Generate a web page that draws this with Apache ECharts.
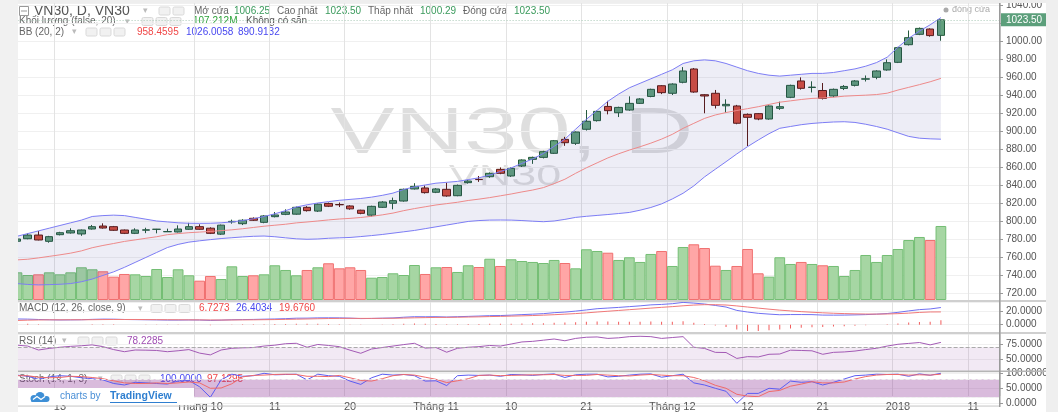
<!DOCTYPE html>
<html>
<head>
<meta charset="utf-8">
<script src="https://cdn.jsdelivr.net/npm/echarts@6/dist/echarts.min.js"></script>
<style>
  html, body { margin: 0; padding: 0; background: #fff; }
  #main { width: 1058px; height: 412px; }
</style>
</head>
<body>
<div id="main"></div>
<script>
// VN30 daily – candles + volume + BB(20,2), MACD, RSI, Stoch panes

const dates = [
  '2017-09-07','2017-09-08','2017-09-11','2017-09-12','2017-09-13','2017-09-14','2017-09-15','2017-09-18','2017-09-19','2017-09-20','2017-09-21','2017-09-22','2017-09-25','2017-09-26','2017-09-27','2017-09-28','2017-09-29',
  '2017-10-02','2017-10-03','2017-10-04','2017-10-05','2017-10-06','2017-10-09','2017-10-10','2017-10-11','2017-10-12','2017-10-13','2017-10-16','2017-10-17','2017-10-18','2017-10-19','2017-10-20','2017-10-23','2017-10-24','2017-10-25','2017-10-26','2017-10-27','2017-10-30','2017-10-31',
  '2017-11-01','2017-11-02','2017-11-03','2017-11-06','2017-11-07','2017-11-08','2017-11-09','2017-11-10','2017-11-13','2017-11-14','2017-11-15','2017-11-16','2017-11-17','2017-11-20','2017-11-21','2017-11-22','2017-11-23','2017-11-24','2017-11-27','2017-11-28','2017-11-29','2017-11-30',
  '2017-12-01','2017-12-04','2017-12-05','2017-12-06','2017-12-07','2017-12-08','2017-12-11','2017-12-12','2017-12-13','2017-12-14','2017-12-15','2017-12-18','2017-12-19','2017-12-20','2017-12-21','2017-12-22','2017-12-25','2017-12-26','2017-12-27','2017-12-28','2017-12-29',
  '2018-01-02','2018-01-03','2018-01-04','2018-01-05','2018-01-08','2018-01-09','2018-01-10','2018-01-11','2018-01-12','2018-01-15'
];

const tickDates = ['2017-09-13','2017-10-02','2017-10-11','2017-10-20','2017-11-01','2017-11-10','2017-11-21','2017-12-01','2017-12-12','2017-12-21','2018-01-02','2018-01-11'];
const tickTexts = ['13','Tháng 10','11','20','Tháng 11','10','21','Tháng 12','12','21','2018','11'];

const opens = [777.5,780.3,784.4,777.4,784.8,786.7,785.6,791.1,794.4,793.7,
  790,786.3,789.8,790.7,788,787.8,790.8,793.7,792,785.4,
  799,797,803,798.5,804.8,807.4,807.6,815.2,811,819.5,
  818.3,816.7,812,806.5,815.2,819.7,822.2,835.6,836.7,831.9,
  835.2,828.1,842.6,846.3,849.2,857.4,850,861.1,868.5,870.7,
  875.2,890.7,886.3,901.9,911.5,927.3,920.3,923.3,930.7,938.4,
  950.3,941.9,954.1,968.9,940.3,941.9,928,927.8,918.5,919.3,
  913.3,925.2,937.4,955.6,948.3,945,938.9,947.3,950.7,957.6,
  959.7,967.8,976.3,995.9,1007.4,1013.3,1006.25];
const closes = [780,784.4,778.9,782.6,787,789.2,790,793.7,792.2,789.7,
  786.3,790,790.2,790.9,788.3,791.1,793.7,790.8,786.3,795.4,
  799.6,800.8,800.8,805.6,806.7,810,815.2,811.5,818.7,816.4,
  818,813.5,808.5,816.3,821.1,822.6,835.2,838.5,831.5,835.6,
  827.8,839.6,844.4,846,853,853,858.5,867.8,870.7,877,
  889.2,887,898.9,910.8,921.8,922.6,926.2,930.7,935.6,946.3,
  942.6,952.2,966.7,943.3,938.9,928.5,929.6,908.6,915.2,913.3,
  927.8,927,950.7,947.4,948.8,936.2,946.3,949.5,955.6,958,
  966.7,975.9,992.6,1003.7,1014,1006,1023.5];
const lows = [776.5,779.7,778.5,775.9,784,786,783.5,790.5,791.5,789,
  785.5,785.5,786.5,786.3,787.8,787.3,790.3,790.3,785.5,784.5,
  797,795.5,800,797.5,804,806.5,807,810.5,810,815.5,
  815.5,812.5,807.5,805,814.5,813,821.5,835,830.5,831,
  827,827.5,841.5,843.5,848,852,849,860,863.5,869.5,
  874.5,883.5,884.5,900.5,910.5,918.5,915.5,922.5,930,937.5,
  941,940,953,942.5,919.7,925,920.3,907.5,883.3,912,
  912.5,923.5,936.5,946,942.8,935,937.5,945.5,949.5,955,
  957.5,967,975.5,995,1006.5,1004.8,1000.29];
const highs = [781,786.3,788.9,783.5,788,791.9,790.5,795.6,797.4,794.5,
  790.5,791.9,792.5,791.2,791.5,795.2,798,796.3,793,796,
  801.5,802,804,806.5,810,813,816,816.5,819.5,820.5,
  820.5,817.5,812.5,817,822,826,836,842,839.5,836.5,
  842.6,840.5,845.5,850,854,859.5,859.5,868.5,871.5,878,
  890,893.5,899.5,923.3,922.5,933.5,927,938.5,936.5,947,
  951,953,971,970,941,945.6,935.2,929,919.5,920,
  928.5,932.6,951.5,959.6,955.2,953.3,947.2,951,956.5,961.7,
  967.5,979.6,993.5,1011.7,1015,1014,1023.5];

// volume, millions
const volumes = [40.1,36.2,37.2,40.1,37.2,40.1,47.4,44.5,41.6,33.8,
  37.7,37.2,34.8,44.9,33.3,44.5,35.8,28.0,34.8,30.4,
  48.8,34.8,35.8,37.2,50.3,43.5,35.8,43.5,47.4,53.2,
  45.9,47.4,43.5,32.3,33.3,38.7,36.2,50.7,37.7,47.4,
  47.8,40.6,50.3,47.8,59.8,49.3,59.0,56.5,55.1,53.6,
  58.0,53.6,45.9,73.5,71.0,68.5,58.0,61.9,55.1,66.7,
  71.0,49.3,76.8,80.7,75.3,49.7,43.5,49.3,73.9,38.7,
  33.8,61.9,52.2,55.1,52.2,50.3,49.3,34.8,43.5,65.2,
  55.1,65.2,73.9,86.9,91.3,86.9,107.212];

const bbUpper = [783,786,789,792,795,798,801,805,806,806.5,
  806,804,802,800,799,798,797.5,797.4,797.5,798,
  799,800.5,802.5,805,808,811.5,815.5,818,820,821.5,
  823,824,825,826.5,828.5,831,835,838,840,842,
  843,844,846,848,851,855,859,864,869,875,
  883,891,902,913,923,933,941,948,953,958,
  963,968,975,978,979,978,975,971,967,964,
  962,961,962,963,964,964,965,967,969,972,
  976,982,993,1003,1011,1018,1026.0058];
const bbMid = [756.8,757.5,759,760.7,762.4,764.3,766.8,770.3,772.8,775,
  777.3,779,780.8,782.5,784.8,786,787,787.7,788.4,789.3,
  790.2,791.4,792.8,794.2,795.3,796.4,797.9,798.9,800,801.2,
  802.2,802.9,803.9,805.2,806.8,808.8,811.5,813.8,815.8,817.8,
  819.3,820.8,822.8,824.3,826,828,830,832.3,834.4,837.1,
  841.5,846.4,853,859.1,864.6,870.1,874.7,878.8,882.5,886.5,
  891,896.3,902.9,908.5,914,917.8,920.5,922.8,924.8,927,
  929.5,932,933.5,935,936.2,936.7,937.5,938.7,939.3,939.8,
  940.5,942,945.5,948.5,951.5,954.7,958.4595];
const bbLower = [730.5,729.5,729,729.3,729.7,730.5,732.5,735.5,739.5,743.5,
  748.5,754,759.5,765,770.5,774,776.5,778,779.3,780.5,
  781.4,782.3,783,783.3,782.5,781.3,780.2,779.7,780,780.8,
  781.3,781.7,782.7,783.8,785,786.5,788,789.5,791.5,793.5,
  795.5,797.5,799.5,800.5,801,801.1,801,800.5,799.8,799.2,
  800,801.8,804,805.2,806.2,807.2,808.3,809.5,812,815,
  819,824.5,830.8,839,849,857.5,865.9,874.5,882.6,890,
  897,903,905,907,908.4,909.3,910,910.3,909.5,907.5,
  905,902,898,894,892,891.3,890.9132];

const macdLine = [8.8,8.6,8,7.6,7.3,7.4,7.6,8.2,8.6,8.5,
  8,7.8,7.6,7.4,7.1,7.1,7.3,7.2,6.6,7,
  7.6,7.9,8.1,8.5,8.8,9.3,10,10.1,10.5,10.6,
  10.5,10.1,9.4,9.6,10,10.4,11.5,12.3,12.2,12.3,
  11.8,12.3,12.8,13.3,13.9,14.1,14.7,15.5,16.2,17,
  18.5,19.4,20.9,22.7,24.6,25.6,26.6,27.8,29,30.5,
  31.2,32.3,34.3,33.2,31.8,29.6,27.2,22,19.5,17.5,
  16.3,15.3,15.6,15.6,15.5,14.8,14.7,14.8,15.1,15.5,
  16.2,17.2,19,21.2,23.2,24.2,26.4034];
const macdSignal = [6.5,7,7.3,7.5,7.5,7.6,7.6,7.7,7.9,8,
  8,8,7.9,7.8,7.7,7.6,7.5,7.4,7.3,7.2,
  7.3,7.4,7.5,7.7,7.9,8.2,8.5,8.8,9.2,9.5,
  9.7,9.8,9.7,9.7,9.8,9.9,10.2,10.6,10.9,11.2,
  11.3,11.5,11.8,12.1,12.5,12.8,13.2,13.6,14.1,14.7,
  15.4,16.2,17.1,18.2,19.5,20.7,21.9,23.1,24.3,25.5,
  26.7,27.8,29.1,30.2,30.8,30.8,30.3,28.9,27.2,25.5,
  23.9,22.4,21.2,20.1,19.2,18.3,17.6,17.1,16.7,16.4,
  16.3,16.5,17,17.8,18.9,19.6,19.676];
const macdHist = [2.3,1.6,0.7,0.1,-0.2,-0.2,0,0.5,0.7,0.5,
  0,-0.2,-0.3,-0.4,-0.6,-0.5,-0.2,-0.2,-0.7,-0.2,
  0.3,0.5,0.6,0.8,0.9,1.1,1.5,1.3,1.3,1.1,
  0.8,0.3,-0.3,-0.1,0.2,0.5,1.3,1.7,1.3,1.1,
  0.5,0.8,1,1.2,1.4,1.3,1.5,1.9,2.1,2.3,
  3.1,3.2,3.8,4.5,5.1,4.9,4.7,4.7,4.7,5,
  4.5,4.5,5.2,3,1,-1.2,-3.5,-7.5,-9.5,-9.5,
  -8.5,-7.5,-5.8,-4.6,-3.8,-3.5,-2.8,-2.2,-1.5,-0.8,
  -0.1,0.7,2,3.4,4.3,4.6,6.7273];

const rsi = [73.5,72,65.3,68,70,71.5,72.5,74,71,66,
  62.4,65.3,65,64.5,62.4,64,66,60,57,65.3,
  68.2,69,69.5,72,73.5,76,76.7,70,74.7,73,
  71,65,59.7,67,69.5,72,74.5,76.7,68.5,69.5,
  61.5,68.2,70,71,73,72,75.5,79,80,82,
  84,81,85,87,87.5,85,86,88,88.6,88,
  85,86.5,88,70,68,61.3,61,51,54,53.5,
  58,58.5,65,64.5,63.9,58,61.3,62,63.5,66,
  68.2,72,75,76.5,78,74,78.2285];
const rsiBands = [30, 70];

const stochK = [94,90,80,88,92,90,85,82,78,66,
  61,70,68,66,64,74,76,55,20,78,
  97,90,92,100,95,96,97,78,97,92,
  90,74,63,85,97,94,96,92,74,75,
  59,92,94,93,94,90,96,95,93,96,
  98,86,95,97,97,88,90,94,97,98,
  87,92,97,68,61,50,40,0,33,33,
  50,47,74,70,72,61,70,81,92,94,
  97,96,97,90,98,93.4,100];
const stochD = [92,92,87,85,86,90,89,86,82,75,
  68,66,66,68,66,68,71,68,50,51,
  65,88,93,94,96,97,96,90,90,89,
  93,85,76,74,82,92,96,94,87,80,
  69,75,82,93,94,92,93,94,95,95,
  96,93,93,93,96,94,92,91,94,96,
  94,92,92,86,75,60,50,30,24,22,
  39,43,57,64,72,68,68,71,81,89,
  94,96,96,94,95,94,97.1295];
const stochBands = [20, 80];

const FONT = '"Liberation Sans", Arial, sans-serif';
const UP = '#62a07d', DOWN = '#d64f3d';

const candleData = opens.map((o, i) => [o, closes[i], lows[i], highs[i]]);
const volData = volumes.map((v, i) => {
  const up = closes[i] >= opens[i];
  return { value: v, itemStyle: { color: up ? '#a6d6a3' : '#ffa6a6', borderColor: up ? '#74be74' : '#f07070' } };
});
const bbWidth = bbUpper.map((u, i) => +(u - bbLower[i]).toFixed(4));
const lastClose = closes[closes.length - 1];

const isTick = (i) => tickDates.indexOf(dates[i]) >= 0;

const L = 11.6, R = 58;
const grids = [
  { left: L, right: R, top: 3, height: 403 },   // background: vertical lines + date labels
  { left: L, right: R, top: 3, height: 297 },   // price
  { left: L, right: R, top: 220, height: 80 },  // volume overlay
  { left: L, right: R, top: 302, height: 30 },  // MACD
  { left: L, right: R, top: 334, height: 37 },  // RSI
  { left: L, right: R, top: 372, height: 34 }   // Stoch
];

const xAxes = grids.map((g, gi) => ({
  type: 'category', gridIndex: gi, data: dates, boundaryGap: true,
  axisLine: { show: false }, axisTick: { show: false },
  axisLabel: gi === 0 ? {
    show: true, interval: (i) => isTick(i), margin: 5,
    color: '#555', fontSize: 11, fontFamily: FONT,
    formatter: (v) => tickTexts[tickDates.indexOf(v)]
  } : { show: false },
  splitLine: gi === 0 ? { show: true, interval: (i) => isTick(i), lineStyle: { color: '#e3e3e3' } } : { show: false }
}));

function valueAxis(gi, min, max, step, digits) {
  return {
    type: 'value', gridIndex: gi, position: 'right', min, max,
    minInterval: step, maxInterval: step, splitNumber: Math.round((max - min) / step),
    axisLine: { show: false },
    axisTick: { show: true, length: 3, lineStyle: { color: '#999' } },
    axisLabel: {
      color: '#555', fontSize: 10, fontFamily: FONT, margin: 6,
      showMinLabel: false, showMaxLabel: false,
      formatter: (v) => v.toFixed(digits)
    },
    splitLine: { show: true, lineStyle: { color: '#f0f0f0' } }
  };
}

const yAxes = [
  { type: 'value', gridIndex: 0, show: false, min: 0, max: 1 },
  valueAxis(1, 712.22, 1042.22, 20, 2),
  { type: 'value', gridIndex: 2, show: false, min: 0, max: 115.9 },
  valueAxis(3, -11.23, 34.92, 20, 4),
  valueAxis(4, 29.6, 92.5, 25, 4),
  valueAxis(5, -9, 104.3, 50, 4)
];

function T(x, y, text, fill, size, extra) {
  return Object.assign({
    type: 'text', x, y,
    style: { text, fill, fontSize: size || 10, fontFamily: FONT, verticalAlign: 'middle', align: 'left' }
  }, extra || {});
}
function icons(x, y, n) {
  const out = [];
  for (let k = 0; k < n; k++) {
    out.push({ type: 'rect', shape: { x: x + k * 14, y: y - 4, width: 11, height: 8, r: 1.5 },
      style: { fill: '#f1f1f1', stroke: '#d9d9d9', lineWidth: 1 } });
  }
  return out;
}
const CHEV = (x, y) => T(x, y, '▾', '#bbb', 9);
const GREEN_T = '#3a9a5c', RED_T = '#f04848', BLUE_T = '#4848f0';
const WM = 'rgba(0,0,0,0.13)';

const graphics = [
  // watermark
  { type: 'text', x: 512, y: 135, scaleX: 1.5,
    style: { text: 'VN30, D', fill: WM, fontSize: 64, fontFamily: FONT, align: 'center', verticalAlign: 'middle' } },
  { type: 'text', x: 505, y: 177, scaleX: 1.55,
    style: { text: 'VN30', fill: WM, fontSize: 29, fontFamily: FONT, align: 'center', verticalAlign: 'middle' } },

  // header line 1
  { type: 'rect', shape: { x: 19.5, y: 6.5, width: 9, height: 9 }, style: { fill: 'none', stroke: '#999', lineWidth: 1 } },
  { type: 'line', shape: { x1: 21, y1: 11, x2: 27, y2: 11 }, style: { stroke: '#999', lineWidth: 1 } },
  T(34, 11.5, 'VN30, D, VN30', '#555', 14),
  CHEV(143, 11),
  ...icons(159, 11, 2),
  T(194, 11, 'Mở cửa', '#666'), T(234, 11, '1006.25', GREEN_T),
  T(277, 11, 'Cao nhất', '#666'), T(325, 11, '1023.50', GREEN_T),
  T(368, 11, 'Thấp nhất', '#666'), T(420, 11, '1000.29', GREEN_T),
  T(463, 11, 'Đóng cửa', '#666'), T(514, 11, '1023.50', GREEN_T),
  // line 2
  T(19, 21.5, 'Khối lượng (false, 20)', '#666'),
  CHEV(125, 21.5),
  ...icons(142, 21.5, 3),
  T(193, 21.5, '107.212M', '#2ea33a'), T(246, 21.5, 'Không có sẵn', '#555'),
  // line 3
  T(19, 32, 'BB (20, 2)', '#666'),
  CHEV(72, 32),
  ...icons(86, 32, 3),
  T(137, 32, '958.4595', RED_T), T(186, 32, '1026.0058', BLUE_T), T(238, 32, '890.9132', BLUE_T),

  // close legend top right
  { type: 'circle', shape: { cx: 946, cy: 10, r: 2.5 }, style: { fill: '#aaa' } },
  T(952, 10, 'đóng cửa', '#aaa', 9),

  // MACD label
  T(19, 308.5, 'MACD (12, 26, close, 9)', '#666'),
  CHEV(138, 308.5),
  ...icons(151, 308.5, 3),
  T(199, 308.5, '6.7273', RED_T), T(236, 308.5, '26.4034', BLUE_T), T(279, 308.5, '19.6760', RED_T),
  // RSI label
  T(19, 341, 'RSI (14)', '#666'),
  CHEV(62, 341),
  ...icons(78, 341, 3),
  T(127, 341, '78.2285', '#a04db3'),
  // Stoch label
  T(19, 379, 'Stoch (14, 1, 3)', '#666'),
  CHEV(98, 379),
  ...icons(111, 379, 3),
  T(160, 379, '100.0000', BLUE_T), T(207, 379, '97.1295', RED_T),

  // pane separators and price axis line
  { type: 'rect', z: 40, shape: { x: 18, y: 0, width: 1040, height: 3 }, style: { fill: '#eeeeee' } },
  { type: 'rect', z: 40, shape: { x: 18, y: 300, width: 1028, height: 2 }, style: { fill: '#cfcfcf' } },
  { type: 'rect', z: 40, shape: { x: 18, y: 332, width: 1028, height: 2 }, style: { fill: '#cfcfcf' } },
  { type: 'rect', z: 40, shape: { x: 18, y: 370.5, width: 1028, height: 1.5 }, style: { fill: '#b5b5b5' } },
  { type: 'rect', z: 40, shape: { x: 18, y: 405.5, width: 982, height: 1 }, style: { fill: '#cccccc' } },
  { type: 'rect', z: 40, shape: { x: 999, y: 3, width: 1.5, height: 404 }, style: { fill: '#9a9a9a' } },

  // TradingView badge
  { type: 'rect', z: 45, shape: { x: 18, y: 388, width: 176, height: 17 }, style: { fill: '#fff' } },
  { type: 'circle', z: 46, shape: { cx: 34, cy: 398.5, r: 3.5 }, style: { fill: '#3d8fd6' } },
  { type: 'circle', z: 46, shape: { cx: 40, cy: 396.5, r: 4.5 }, style: { fill: '#3d8fd6' } },
  { type: 'circle', z: 46, shape: { cx: 46.5, cy: 399, r: 3 }, style: { fill: '#3d8fd6' } },
  { type: 'rect', z: 46, shape: { x: 31, y: 398.5, width: 16, height: 3.5, r: 1.5 }, style: { fill: '#3d8fd6' } },
  { type: 'polyline', z: 47, shape: { points: [[33, 399.5], [37, 396.5], [41, 399.5], [45, 396.5]] }, style: { stroke: '#fff', lineWidth: 1.2, fill: null } },
  T(60, 396.5, 'charts by', '#4a8fd6', 10, { z: 46 }),
  { type: 'text', z: 46, x: 110, y: 396.5,
    style: { text: 'TradingView', fill: '#2f7fd0', fontSize: 10.5, fontWeight: 'bold', fontFamily: FONT, verticalAlign: 'middle', align: 'left' } },
  { type: 'rect', z: 46, shape: { x: 110, y: 402, width: 67, height: 1 }, style: { fill: '#2f7fd0' } },

  // side strips
  { type: 'rect', z: 50, shape: { x: 0, y: 0, width: 18, height: 412 }, style: { fill: '#f1f1f1' } },
  { type: 'rect', z: 50, shape: { x: 1046, y: 0, width: 12, height: 412 }, style: { fill: '#efefef' } }
];

const lineBase = { type: 'line', symbol: 'none', smooth: false, silent: true };

const option = {
  animation: false,
  backgroundColor: '#fff',
  grid: grids,
  xAxis: xAxes,
  yAxis: yAxes,
  graphic: graphics,
  series: [
    { name: 'Khối lượng', type: 'bar', xAxisIndex: 2, yAxisIndex: 2, data: volData,
      barCategoryGap: '0%', itemStyle: { borderWidth: 1 }, silent: true },
    Object.assign({}, lineBase, { name: 'bbBase', xAxisIndex: 1, yAxisIndex: 1, data: bbLower, stack: 'bb', lineStyle: { opacity: 0 } }),
    Object.assign({}, lineBase, { name: 'bbFill', xAxisIndex: 1, yAxisIndex: 1, data: bbWidth, stack: 'bb', lineStyle: { opacity: 0 },
      areaStyle: { color: 'rgba(60,60,150,0.13)' } }),
    Object.assign({}, lineBase, { name: 'BB upper', xAxisIndex: 1, yAxisIndex: 1, data: bbUpper, lineStyle: { color: '#7d7df5', width: 1 } }),
    Object.assign({}, lineBase, { name: 'BB lower', xAxisIndex: 1, yAxisIndex: 1, data: bbLower, lineStyle: { color: '#7d7df5', width: 1 } }),
    Object.assign({}, lineBase, { name: 'BB basis', xAxisIndex: 1, yAxisIndex: 1, data: bbMid, lineStyle: { color: '#ee8a8a', width: 1 } }),
    { name: 'VN30', type: 'candlestick', xAxisIndex: 1, yAxisIndex: 1, data: candleData, barWidth: 8,
      itemStyle: { color: UP, color0: DOWN, borderColor: '#245a3b', borderColor0: '#5b1a13', borderWidth: 1 },
      markLine: {
        silent: true, symbol: ['none', 'none'],
        data: [{ yAxis: lastClose }],
        lineStyle: { type: [1, 2], color: '#a9c9b6', width: 1 },
        label: { show: true, position: 'end', distance: 1, formatter: () => lastClose.toFixed(2),
          backgroundColor: '#5c9f7b', color: '#fff', fontSize: 10, fontFamily: FONT, padding: [2, 5, 1, 5] }
      } },
    { name: 'Histogram', type: 'bar', xAxisIndex: 3, yAxisIndex: 3, data: macdHist, barWidth: 1,
      itemStyle: { color: '#f25c5c' }, silent: true },
    Object.assign({}, lineBase, { name: 'MACD', xAxisIndex: 3, yAxisIndex: 3, data: macdLine, lineStyle: { color: '#7070f2', width: 1 } }),
    Object.assign({}, lineBase, { name: 'Signal', xAxisIndex: 3, yAxisIndex: 3, data: macdSignal, lineStyle: { color: '#f07878', width: 1 } }),
    Object.assign({}, lineBase, { name: 'RSI', xAxisIndex: 4, yAxisIndex: 4, data: rsi, lineStyle: { color: '#a35ab5', width: 1 },
      markArea: { silent: true, itemStyle: { color: 'rgba(150,70,165,0.12)' }, data: [[{ yAxis: rsiBands[0] }, { yAxis: rsiBands[1] }]] },
      markLine: { silent: true, symbol: ['none', 'none'], label: { show: false }, lineStyle: { type: 'dashed', color: '#aaa', width: 1 },
        data: rsiBands.map(v => ({ yAxis: v })) } }),
    Object.assign({}, lineBase, { name: '%K', xAxisIndex: 5, yAxisIndex: 5, data: stochK, lineStyle: { color: '#5c5cf2', width: 1 },
      markArea: { silent: true, itemStyle: { color: 'rgba(140,50,150,0.33)' }, data: [[{ yAxis: stochBands[0] }, { yAxis: stochBands[1] }]] },
      markLine: { silent: true, symbol: ['none', 'none'], label: { show: false }, lineStyle: { type: 'dashed', color: '#eee', width: 1 },
        data: stochBands.map(v => ({ yAxis: v })) } }),
    Object.assign({}, lineBase, { name: '%D', xAxisIndex: 5, yAxisIndex: 5, data: stochD, lineStyle: { color: '#f06a6a', width: 1 } })
  ]
};

const chart = echarts.init(document.getElementById('main'));
chart.setOption(option);
</script>
</body>
</html>
